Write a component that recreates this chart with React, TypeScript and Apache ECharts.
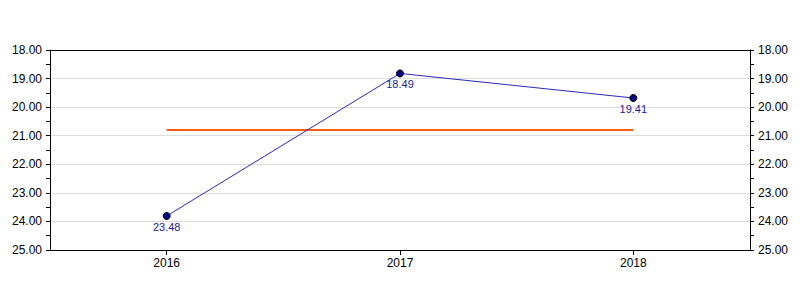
import React, { useEffect, useRef } from "react";
import * as echarts from "echarts";

const categories = ["2016", "2017", "2018"];
// plotted positions
const values = [23.81, 18.82, 19.68];
// printed data labels as shown in the picture
const valueLabels = ["23.48", "18.49", "19.41"];
const referenceValue = 20.8;
const referenceLine = categories.map(() => referenceValue);

const yMin = 18;
const yMax = 25;

export default function App() {
  const ref = useRef<HTMLDivElement>(null);
  useEffect(() => {
    document.body.style.margin = "0";
    const chart = echarts.init(ref.current!, null, { renderer: "svg" });
    const yAxisBase = {
      type: "value",
      inverse: true,
      min: yMin,
      max: yMax,
      interval: 1,
      axisLine: { show: true, lineStyle: { color: "#000", width: 1 } },
      axisTick: { show: true, length: 4, lineStyle: { color: "#000" } },
      minorTick: { show: true, splitNumber: 2, length: 4, lineStyle: { color: "#000" } },
      axisLabel: {
        color: "#000",
        fontSize: 12,
        fontFamily: "Liberation Sans, Arial, sans-serif",
        formatter: (v: number) => v.toFixed(2),
        margin: 8,
      },
    };
    chart.setOption({
      animation: false,
      grid: { left: 50, right: 50, top: 50, bottom: 50 },
      xAxis: [
        {
          type: "category",
          data: categories,
          boundaryGap: true,
          axisLine: { show: true, lineStyle: { color: "#000", width: 1 } },
          axisTick: { show: true, alignWithLabel: true, interval: 0, length: 5, lineStyle: { color: "#000" } },
          axisLabel: {
            color: "#000",
            fontSize: 12,
            fontFamily: "Liberation Sans, Arial, sans-serif",
            margin: 7,
          },
          splitLine: { show: false },
        },
        {
          type: "category",
          data: categories,
          position: "top",
          axisLine: { show: true, lineStyle: { color: "#000", width: 1 } },
          axisTick: { show: false },
          axisLabel: { show: false },
        },
      ],
      yAxis: [
        {
          ...yAxisBase,
          position: "left",
          splitLine: { show: true, lineStyle: { color: "#dcdcdc", width: 1 } },
        },
        {
          ...yAxisBase,
          position: "right",
          splitLine: { show: false },
        },
      ],
      series: [
        {
          type: "line",
          data: referenceLine,
          symbol: "none",
          lineStyle: { color: "#ff5a14", width: 2 },
          itemStyle: { color: "#ff5a14" },
          z: 2,
        },
        {
          type: "line",
          data: values,
          symbol: "circle",
          symbolSize: 7,
          lineStyle: { color: "#2a2ac0", width: 1 },
          itemStyle: { color: "#000080", borderColor: "#000", borderWidth: 1 },
          label: {
            show: true,
            position: "bottom",
            distance: 1,
            color: "#1c1c99",
            fontSize: 11,
            fontFamily: "Liberation Sans, Arial, sans-serif",
            formatter: (p: any) => valueLabels[p.dataIndex],
          },
          z: 3,
        },
      ],
    });
    return () => chart.dispose();
  }, []);
  return <div ref={ref} style={{ width: 800, height: 300 }} />;
}
